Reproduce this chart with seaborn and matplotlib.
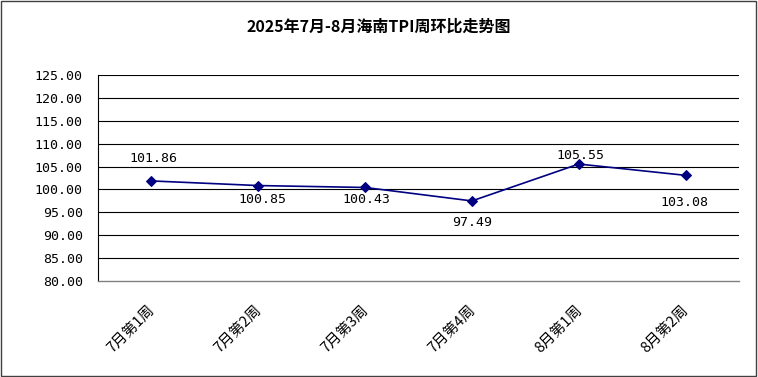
import matplotlib
matplotlib.use("Agg")
import matplotlib.pyplot as plt
import matplotlib.transforms as mtransforms
import seaborn as sns
import pandas as pd
from matplotlib.patches import Rectangle

sns.set_style("white")
plt.rcParams['font.family'] = ['Noto Sans CJK SC', 'DejaVu Sans']
plt.rcParams['text.color'] = 'black'
plt.rcParams['xtick.color'] = 'black'
plt.rcParams['ytick.color'] = 'black'

categories = ["7月第1周", "7月第2周", "7月第3周", "7月第4周", "8月第1周", "8月第2周"]
values = [101.86, 100.85, 100.43, 97.49, 105.55, 103.08]
yticks = [80, 85, 90, 95, 100, 105, 110, 115, 120, 125]
title = "2025年7月-8月海南TPI周环比走势图"

# label offsets from the point, in pixels (dx, dy; positive dy = up)
label_offsets = [(2, 22), (4, -14), (1, -12), (0, -22), (2, 9), (-1, -27)]

df = pd.DataFrame({"x": range(len(categories)), "v": values})

fig = plt.figure(figsize=(7.58, 3.77), dpi=100)
ax = fig.add_axes([98/758, 1-281/377, (739-98)/758, (281-75)/377])

sns.lineplot(data=df, x="x", y="v", ax=ax, color="#000080", marker="D",
             markersize=5, markeredgecolor="#000080", linewidth=1.2)

ax.set_xlim(-0.5, len(categories)-0.5)
ax.set_ylim(80, 125)
ax.set_yticks(yticks)
ax.set_yticklabels([f"{t:.2f}" for t in yticks], fontsize=9.5, family=['DejaVu Sans Mono'])
for t in yticks[1:]:
    ax.axhline(t, color="black", linewidth=0.8, zorder=0)

ax.set_xticks(range(len(categories)))
ax.set_xticklabels(categories, rotation=45, ha="right", rotation_mode="anchor", fontsize=10.5)
ax.tick_params(axis="x", length=0, pad=17)
ax.tick_params(axis="y", length=0, pad=11)
shift = mtransforms.ScaledTranslation(-4/100, 2/100, fig.dpi_scale_trans)
for lbl in ax.get_xticklabels():
    lbl.set_transform(lbl.get_transform() + shift)
ax.set_xticks([i + 0.5 for i in range(-1, len(categories))], minor=True)
ax.tick_params(axis="x", which="minor", length=4, color="#808080", width=0.8)

ax.set_xlabel("")
ax.set_ylabel("")
ax.spines["right"].set_visible(False)
ax.spines["top"].set_visible(False)
ax.spines["left"].set_color("black")
ax.spines["left"].set_linewidth(0.8)
ax.spines["bottom"].set_color("#808080")
ax.spines["bottom"].set_linewidth(1.0)

for i, (v, (dx, dy)) in enumerate(zip(values, label_offsets)):
    ax.annotate(f"{v:.2f}", (i, v), xytext=(dx*0.72, dy*0.72), textcoords="offset points",
                ha="center", va="center",
                fontsize=9.5, family=['DejaVu Sans Mono'])

fig.text(0.5, 1-27/377, title, ha="center", va="center", fontsize=11.5, fontweight="bold")

fig.patches.append(Rectangle((0.001, 0.002), 0.997, 0.995, transform=fig.transFigure,
                             fill=False, edgecolor="#404040", linewidth=1.0))

fig.savefig("out.png", dpi=100)
